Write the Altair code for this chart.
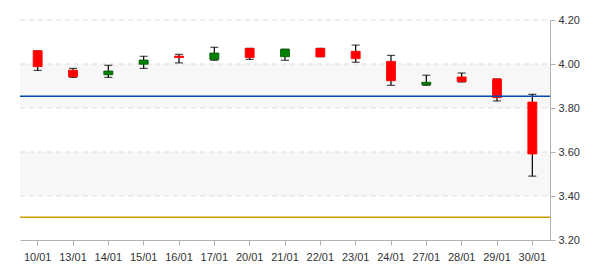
import altair as alt
import pandas as pd

dates = ["10/01", "13/01", "14/01", "15/01", "16/01", "17/01", "20/01", "21/01",
         "22/01", "23/01", "24/01", "27/01", "28/01", "29/01", "30/01"]
opens = [4.06, 3.972, 3.951, 3.999, 4.036, 4.02, 4.071, 4.033, 4.071, 4.058, 4.012, 3.906, 3.941, 3.932, 3.827]
highs = [4.06, 3.980, 3.994, 4.035, 4.044, 4.076, 4.071, 4.067, 4.071, 4.086, 4.039, 3.949, 3.959, 3.932, 3.862]
lows = [3.971, 3.939, 3.939, 3.980, 4.005, 4.017, 4.021, 4.017, 4.033, 4.008, 3.903, 3.903, 3.918, 3.832, 3.490]
closes = [3.988, 3.942, 3.968, 4.018, 4.029, 4.05, 4.029, 4.067, 4.033, 4.024, 3.924, 3.917, 3.920, 3.847, 3.591]

y_ticks = [3.2, 3.4, 3.6, 3.8, 4.0, 4.2]
band_lo = [3.8, 3.4]
band_hi = [4.0, 3.6]
grid_vals = [3.4, 3.6, 3.8, 4.0, 4.2]
blue_level = 3.853
gold_level = 3.303

df = pd.DataFrame({"date": dates, "open": opens, "high": highs, "low": lows, "close": closes})
df["dir"] = ["up" if c >= o else "down" for o, c in zip(opens, closes)]

W, H = 530, 220
yscale = alt.Scale(domain=[3.2, 4.2], nice=False, zero=False)
xscale = alt.Scale(domain=dates, paddingInner=0, paddingOuter=0)

bands = alt.Chart(pd.DataFrame({"lo": band_lo, "hi": band_hi})).mark_rect(color="#f7f7f7").encode(
    x=alt.value(0), x2=alt.value(W),
    y=alt.Y("hi:Q", scale=yscale), y2="lo:Q")

grid = alt.Chart(pd.DataFrame({"v": grid_vals})).mark_rule(
    color="#dcdcdc", strokeDash=[5, 4], strokeWidth=1).encode(
    x=alt.value(0), x2=alt.value(W), y=alt.Y("v:Q", scale=yscale))

blue = alt.Chart(pd.DataFrame({"v": [blue_level]})).mark_rule(color="#004aad", strokeWidth=1.5).encode(
    x=alt.value(0), x2=alt.value(W), y=alt.Y("v:Q", scale=yscale))
gold = alt.Chart(pd.DataFrame({"v": [gold_level]})).mark_rule(color="#cc9e00", strokeWidth=1.5).encode(
    x=alt.value(0), x2=alt.value(W), y=alt.Y("v:Q", scale=yscale))

base = alt.Chart(df)
xenc = alt.X("date:N", scale=xscale, sort=dates, title=None,
             axis=alt.Axis(labelAngle=0, domainColor="#b0b0b0", tickColor="#b0b0b0", tickSize=5,
                           labelColor="#333333", labelFont="Liberation Sans", labelFontSize=11,
                           labelPadding=6, grid=False))

wick = base.mark_rule(color="black", strokeWidth=1.2).encode(
    x=xenc,
    y=alt.Y("low:Q", scale=yscale, title=None,
            axis=alt.Axis(orient="right", values=y_ticks, format=".2f", grid=False,
                          domainColor="#b0b0b0", tickColor="#b0b0b0", tickSize=5,
                          labelColor="#333333", labelFont="Liberation Sans", labelFontSize=11,
                          labelPadding=3)),
    y2="high:Q")
cap_hi = base.mark_tick(color="black", size=8, thickness=1.2, orient="horizontal").encode(
    x="date:N", y=alt.Y("high:Q", scale=yscale))
cap_lo = base.mark_tick(color="black", size=8, thickness=1.2, orient="horizontal").encode(
    x="date:N", y=alt.Y("low:Q", scale=yscale))
body = base.mark_bar(size=9, cornerRadius=0).encode(
    x="date:N",
    y=alt.Y("open:Q", scale=yscale), y2="close:Q",
    color=alt.Color("dir:N", scale=alt.Scale(domain=["up", "down"], range=["#008000", "#ff0000"]), legend=None),
    stroke=alt.Stroke("dir:N", scale=alt.Scale(domain=["up", "down"], range=["#005500", "#ff0000"]), legend=None),
    strokeWidth=alt.value(0.8))

chart = alt.layer(bands, grid, gold, wick, cap_hi, cap_lo, body, blue).properties(
    width=W, height=H, autosize="none",
    padding={"left": 20, "top": 20, "right": 50, "bottom": 30},
    background="white"
).configure_view(stroke=None)

chart.save("out.html", embed_options={"renderer": "svg", "actions": False})
